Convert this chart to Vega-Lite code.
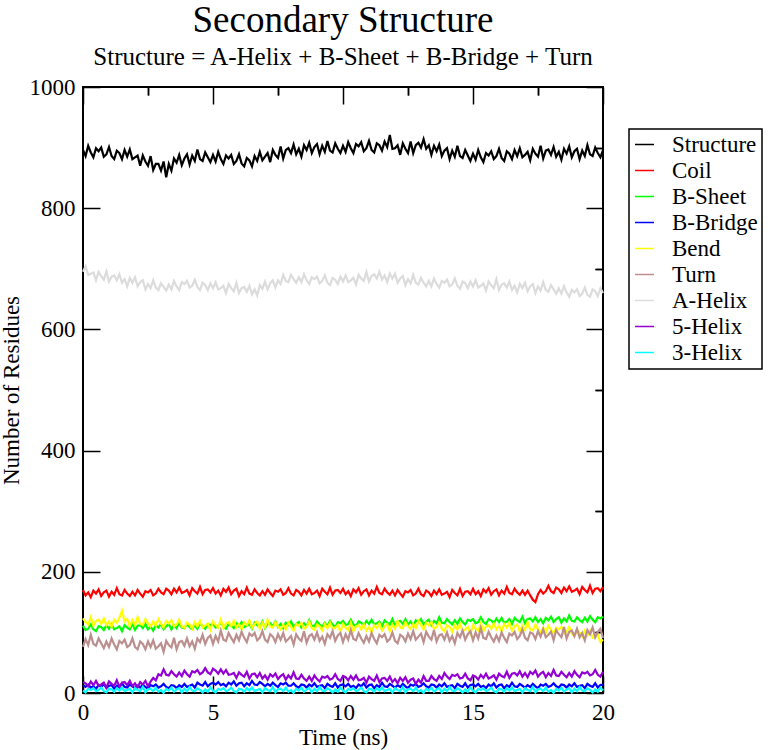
{
"$schema":"https://vega.github.io/schema/vega-lite/v6.json",
"width":520,"height":606,
"autosize":"none",
"padding":{"left":83,"top":87,"right":171,"bottom":57},
"background":"white",
"config":{"view":{"stroke":"black","strokeWidth":2},"font":"Liberation Serif",
"legend":{"strokeWidth":1.5},
"axis":{"grid":false,"domain":false,"labelFlush":false,"format":"d","tickColor":"black","tickWidth":1.5,"labelFont":"Liberation Serif","labelFontSize":23,"labelColor":"black","titleFont":"Liberation Serif","titleFontSize":23,"titleFontWeight":"normal","titleColor":"black"}},
"title":{"text":"Secondary Structure","subtitle":"Structure = A-Helix + B-Sheet + B-Bridge + Turn","font":"Liberation Serif","fontSize":37,"fontWeight":"normal","color":"black","subtitleFont":"Liberation Serif","subtitleFontSize":25,"subtitleColor":"black","subtitlePadding":5,"offset":5,"anchor":"middle","frame":"group"},
"datasets":{"ss":[
{"t":0,"S":896,"C":170,"G":111,"B":13,"Y":123,"T":76,"A":695,"V":18,"H":4},
{"t":0.1,"S":886,"C":161,"G":104,"B":10,"Y":117,"T":89,"A":704,"V":16,"H":1},
{"t":0.2,"S":903,"C":166,"G":106,"B":14,"Y":113,"T":79,"A":690,"V":11,"H":7},
{"t":0.3,"S":892,"C":158,"G":113,"B":9,"Y":125,"T":96,"A":692,"V":19,"H":5},
{"t":0.4,"S":884,"C":169,"G":105,"B":11,"Y":111,"T":81,"A":694,"V":13,"H":8},
{"t":0.5,"S":899,"C":164,"G":102,"B":7,"Y":119,"T":78,"A":681,"V":20,"H":3},
{"t":0.6,"S":894,"C":171,"G":110,"B":13,"Y":121,"T":90,"A":695,"V":12,"H":5},
{"t":0.7,"S":900,"C":160,"G":109,"B":10,"Y":114,"T":82,"A":688,"V":14,"H":9},
{"t":0.8,"S":885,"C":166,"G":104,"B":15,"Y":123,"T":74,"A":682,"V":17,"H":3},
{"t":0.9,"S":889,"C":169,"G":112,"B":8,"Y":112,"T":85,"A":696,"V":9,"H":1},
{"t":1.0,"S":901,"C":159,"G":106,"B":12,"Y":118,"T":76,"A":679,"V":19,"H":7},
{"t":1.1,"S":886,"C":167,"G":113,"B":13,"Y":109,"T":90,"A":687,"V":15,"H":6},
{"t":1.2,"S":881,"C":162,"G":105,"B":7,"Y":121,"T":80,"A":689,"V":12,"H":2},
{"t":1.3,"S":895,"C":173,"G":107,"B":12,"Y":116,"T":72,"A":681,"V":21,"H":8},
{"t":1.4,"S":891,"C":163,"G":110,"B":9,"Y":124,"T":86,"A":691,"V":10,"H":4},
{"t":1.5,"S":881,"C":161,"G":102,"B":16,"Y":136,"T":82,"A":677,"V":17,"H":9},
{"t":1.6,"S":896,"C":170,"G":112,"B":10,"Y":118,"T":88,"A":683,"V":18,"H":3},
{"t":1.7,"S":885,"C":164,"G":108,"B":9,"Y":122,"T":76,"A":671,"V":13,"H":5},
{"t":1.8,"S":897,"C":160,"G":105,"B":14,"Y":110,"T":79,"A":685,"V":20,"H":7},
{"t":1.9,"S":881,"C":167,"G":114,"B":11,"Y":120,"T":90,"A":677,"V":11,"H":1},
{"t":2.0,"S":884,"C":161,"G":104,"B":8,"Y":112,"T":76,"A":686,"V":16,"H":8},
{"t":2.1,"S":887,"C":170,"G":111,"B":12,"Y":125,"T":72,"A":671,"V":9,"H":5},
{"t":2.2,"S":870,"C":164,"G":112,"B":9,"Y":114,"T":85,"A":678,"V":18,"H":3},
{"t":2.3,"S":887,"C":159,"G":107,"B":14,"Y":112,"T":81,"A":681,"V":14,"H":10},
{"t":2.4,"S":877,"C":168,"G":114,"B":10,"Y":122,"T":72,"A":666,"V":20,"H":1},
{"t":2.5,"S":870,"C":166,"G":105,"B":7,"Y":115,"T":85,"A":675,"V":11,"H":6},
{"t":2.6,"S":886,"C":170,"G":110,"B":13,"Y":110,"T":76,"A":668,"V":19,"H":7},
{"t":2.7,"S":863,"C":161,"G":103,"B":11,"Y":118,"T":87,"A":681,"V":25,"H":3},
{"t":2.8,"S":873,"C":164,"G":112,"B":14,"Y":111,"T":73,"A":669,"V":21,"H":9},
{"t":2.9,"S":873,"C":172,"G":108,"B":9,"Y":122,"T":77,"A":665,"V":31,"H":2},
{"t":3.0,"S":862,"C":166,"G":114,"B":11,"Y":114,"T":82,"A":676,"V":29,"H":5},
{"t":3.1,"S":877,"C":163,"G":105,"B":15,"Y":108,"T":68,"A":670,"V":39,"H":0},
{"t":3.2,"S":851,"C":172,"G":110,"B":10,"Y":119,"T":86,"A":664,"V":30,"H":7},
{"t":3.3,"S":873,"C":169,"G":114,"B":8,"Y":115,"T":79,"A":674,"V":29,"H":4},
{"t":3.4,"S":862,"C":163,"G":105,"B":13,"Y":120,"T":75,"A":666,"V":36,"H":9},
{"t":3.5,"S":882,"C":172,"G":112,"B":12,"Y":110,"T":91,"A":680,"V":31,"H":2},
{"t":3.6,"S":875,"C":166,"G":107,"B":8,"Y":113,"T":72,"A":671,"V":27,"H":6},
{"t":3.7,"S":888,"C":174,"G":117,"B":13,"Y":121,"T":84,"A":665,"V":34,"H":8},
{"t":3.8,"S":871,"C":165,"G":108,"B":10,"Y":110,"T":86,"A":678,"V":28,"H":1},
{"t":3.9,"S":882,"C":167,"G":107,"B":15,"Y":107,"T":78,"A":675,"V":37,"H":7},
{"t":4.0,"S":889,"C":170,"G":114,"B":10,"Y":116,"T":90,"A":680,"V":31,"H":3},
{"t":4.1,"S":872,"C":161,"G":109,"B":12,"Y":113,"T":77,"A":669,"V":27,"H":10},
{"t":4.2,"S":887,"C":173,"G":105,"B":14,"Y":106,"T":85,"A":672,"V":36,"H":4},
{"t":4.3,"S":878,"C":168,"G":112,"B":9,"Y":117,"T":73,"A":682,"V":34,"H":3},
{"t":4.4,"S":897,"C":164,"G":106,"B":17,"Y":110,"T":90,"A":670,"V":38,"H":8},
{"t":4.5,"S":881,"C":175,"G":115,"B":14,"Y":119,"T":84,"A":665,"V":31,"H":5},
{"t":4.6,"S":878,"C":163,"G":110,"B":12,"Y":108,"T":96,"A":677,"V":34,"H":1},
{"t":4.7,"S":892,"C":170,"G":106,"B":18,"Y":111,"T":81,"A":673,"V":41,"H":6},
{"t":4.8,"S":884,"C":171,"G":114,"B":11,"Y":115,"T":91,"A":665,"V":34,"H":2},
{"t":4.9,"S":876,"C":166,"G":112,"B":15,"Y":104,"T":95,"A":676,"V":31,"H":9},
{"t":5.0,"S":888,"C":173,"G":115,"B":17,"Y":118,"T":81,"A":668,"V":40,"H":4},
{"t":5.1,"S":877,"C":164,"G":108,"B":14,"Y":112,"T":94,"A":678,"V":37,"H":1},
{"t":5.2,"S":893,"C":169,"G":110,"B":18,"Y":108,"T":85,"A":666,"V":32,"H":7},
{"t":5.3,"S":881,"C":161,"G":117,"B":13,"Y":121,"T":103,"A":668,"V":39,"H":5},
{"t":5.4,"S":873,"C":172,"G":109,"B":15,"Y":107,"T":88,"A":672,"V":32,"H":8},
{"t":5.5,"S":887,"C":167,"G":106,"B":11,"Y":115,"T":86,"A":660,"V":38,"H":3},
{"t":5.6,"S":882,"C":174,"G":114,"B":17,"Y":117,"T":99,"A":675,"V":30,"H":5},
{"t":5.7,"S":888,"C":163,"G":112,"B":14,"Y":110,"T":91,"A":668,"V":31,"H":9},
{"t":5.8,"S":873,"C":169,"G":107,"B":19,"Y":119,"T":84,"A":663,"V":33,"H":3},
{"t":5.9,"S":878,"C":172,"G":115,"B":12,"Y":108,"T":96,"A":677,"V":25,"H":1},
{"t":6.0,"S":889,"C":160,"G":110,"B":16,"Y":114,"T":87,"A":660,"V":34,"H":7},
{"t":6.1,"S":874,"C":168,"G":117,"B":17,"Y":105,"T":101,"A":668,"V":30,"H":6},
{"t":6.2,"S":869,"C":163,"G":109,"B":11,"Y":117,"T":91,"A":670,"V":27,"H":2},
{"t":6.3,"S":883,"C":174,"G":111,"B":16,"Y":112,"T":84,"A":662,"V":35,"H":8},
{"t":6.4,"S":879,"C":164,"G":114,"B":13,"Y":120,"T":98,"A":672,"V":24,"H":4},
{"t":6.5,"S":869,"C":162,"G":106,"B":20,"Y":107,"T":94,"A":658,"V":31,"H":9},
{"t":6.6,"S":886,"C":171,"G":116,"B":14,"Y":114,"T":99,"A":666,"V":32,"H":3},
{"t":6.7,"S":878,"C":165,"G":112,"B":13,"Y":118,"T":87,"A":656,"V":26,"H":5},
{"t":6.8,"S":893,"C":161,"G":109,"B":18,"Y":106,"T":91,"A":673,"V":33,"H":7},
{"t":6.9,"S":879,"C":168,"G":118,"B":15,"Y":116,"T":102,"A":667,"V":24,"H":1},
{"t":7.0,"S":885,"C":162,"G":107,"B":11,"Y":108,"T":88,"A":679,"V":29,"H":8},
{"t":7.1,"S":891,"C":171,"G":114,"B":15,"Y":121,"T":84,"A":666,"V":22,"H":5},
{"t":7.2,"S":876,"C":165,"G":115,"B":12,"Y":110,"T":97,"A":676,"V":31,"H":3},
{"t":7.3,"S":896,"C":160,"G":110,"B":17,"Y":108,"T":93,"A":681,"V":27,"H":10},
{"t":7.4,"S":888,"C":169,"G":118,"B":13,"Y":117,"T":84,"A":669,"V":32,"H":1},
{"t":7.5,"S":883,"C":167,"G":109,"B":10,"Y":110,"T":97,"A":681,"V":23,"H":6},
{"t":7.6,"S":902,"C":171,"G":114,"B":16,"Y":105,"T":88,"A":675,"V":28,"H":7},
{"t":7.7,"S":882,"C":162,"G":107,"B":14,"Y":113,"T":99,"A":690,"V":31,"H":3},
{"t":7.8,"S":896,"C":165,"G":116,"B":17,"Y":105,"T":85,"A":680,"V":22,"H":9},
{"t":7.9,"S":899,"C":173,"G":112,"B":12,"Y":116,"T":89,"A":678,"V":29,"H":2},
{"t":8.0,"S":891,"C":164,"G":118,"B":12,"Y":109,"T":94,"A":690,"V":24,"H":5},
{"t":8.1,"S":905,"C":161,"G":109,"B":16,"Y":103,"T":80,"A":683,"V":34,"H":0},
{"t":8.2,"S":889,"C":170,"G":114,"B":11,"Y":114,"T":97,"A":677,"V":24,"H":7},
{"t":8.3,"S":898,"C":167,"G":117,"B":9,"Y":111,"T":90,"A":686,"V":23,"H":4},
{"t":8.4,"S":885,"C":161,"G":108,"B":14,"Y":116,"T":86,"A":678,"V":30,"H":9},
{"t":8.5,"S":904,"C":170,"G":115,"B":13,"Y":106,"T":102,"A":691,"V":24,"H":2},
{"t":8.6,"S":896,"C":164,"G":110,"B":9,"Y":109,"T":83,"A":681,"V":20,"H":6},
{"t":8.7,"S":908,"C":172,"G":120,"B":14,"Y":118,"T":94,"A":675,"V":27,"H":8},
{"t":8.8,"S":891,"C":163,"G":111,"B":11,"Y":107,"T":97,"A":686,"V":20,"H":1},
{"t":8.9,"S":901,"C":165,"G":110,"B":16,"Y":104,"T":88,"A":683,"V":29,"H":7},
{"t":9.0,"S":906,"C":169,"G":118,"B":10,"Y":113,"T":100,"A":687,"V":23,"H":3},
{"t":9.1,"S":889,"C":160,"G":113,"B":12,"Y":110,"T":86,"A":676,"V":19,"H":10},
{"t":9.2,"S":903,"C":172,"G":109,"B":13,"Y":103,"T":93,"A":680,"V":27,"H":4},
{"t":9.3,"S":893,"C":167,"G":116,"B":8,"Y":114,"T":81,"A":689,"V":25,"H":3},
{"t":9.4,"S":911,"C":163,"G":110,"B":15,"Y":107,"T":97,"A":677,"V":28,"H":8},
{"t":9.5,"S":895,"C":174,"G":119,"B":12,"Y":116,"T":91,"A":673,"V":22,"H":5},
{"t":9.6,"S":892,"C":162,"G":113,"B":10,"Y":105,"T":102,"A":685,"V":24,"H":1},
{"t":9.7,"S":907,"C":169,"G":109,"B":16,"Y":108,"T":86,"A":682,"V":31,"H":6},
{"t":9.8,"S":898,"C":170,"G":117,"B":9,"Y":112,"T":95,"A":675,"V":23,"H":2},
{"t":9.9,"S":891,"C":165,"G":115,"B":13,"Y":101,"T":99,"A":687,"V":20,"H":9},
{"t":10.0,"S":903,"C":172,"G":119,"B":14,"Y":114,"T":84,"A":679,"V":28,"H":4},
{"t":10.1,"S":893,"C":163,"G":112,"B":11,"Y":108,"T":97,"A":689,"V":26,"H":1},
{"t":10.2,"S":909,"C":168,"G":114,"B":15,"Y":104,"T":88,"A":678,"V":21,"H":7},
{"t":10.3,"S":899,"C":160,"G":121,"B":10,"Y":116,"T":104,"A":681,"V":28,"H":5},
{"t":10.4,"S":891,"C":171,"G":113,"B":12,"Y":102,"T":89,"A":685,"V":22,"H":8},
{"t":10.5,"S":906,"C":166,"G":110,"B":8,"Y":110,"T":87,"A":674,"V":29,"H":3},
{"t":10.6,"S":902,"C":173,"G":118,"B":14,"Y":112,"T":99,"A":690,"V":21,"H":5},
{"t":10.7,"S":909,"C":162,"G":116,"B":11,"Y":105,"T":90,"A":684,"V":22,"H":9},
{"t":10.8,"S":894,"C":168,"G":111,"B":16,"Y":114,"T":83,"A":680,"V":25,"H":3},
{"t":10.9,"S":899,"C":171,"G":119,"B":9,"Y":103,"T":94,"A":695,"V":17,"H":1},
{"t":11.0,"S":911,"C":161,"G":114,"B":13,"Y":109,"T":85,"A":679,"V":27,"H":7},
{"t":11.1,"S":896,"C":169,"G":121,"B":14,"Y":100,"T":99,"A":688,"V":23,"H":6},
{"t":11.2,"S":892,"C":164,"G":113,"B":8,"Y":112,"T":89,"A":691,"V":20,"H":2},
{"t":11.3,"S":907,"C":175,"G":115,"B":13,"Y":107,"T":82,"A":684,"V":29,"H":8},
{"t":11.4,"S":904,"C":165,"G":118,"B":10,"Y":115,"T":96,"A":695,"V":18,"H":4},
{"t":11.5,"S":895,"C":163,"G":110,"B":17,"Y":103,"T":92,"A":682,"V":24,"H":9},
{"t":11.6,"S":910,"C":172,"G":120,"B":11,"Y":110,"T":97,"A":689,"V":25,"H":3},
{"t":11.7,"S":901,"C":166,"G":116,"B":10,"Y":114,"T":85,"A":678,"V":20,"H":5},
{"t":11.8,"S":921,"C":162,"G":113,"B":15,"Y":102,"T":89,"A":692,"V":27,"H":7},
{"t":11.9,"S":898,"C":169,"G":122,"B":12,"Y":113,"T":100,"A":684,"V":18,"H":1},
{"t":12.0,"S":899,"C":161,"G":111,"B":9,"Y":106,"T":86,"A":692,"V":23,"H":8},
{"t":12.1,"S":904,"C":170,"G":118,"B":13,"Y":119,"T":82,"A":677,"V":16,"H":5},
{"t":12.2,"S":888,"C":164,"G":119,"B":10,"Y":108,"T":96,"A":684,"V":25,"H":3},
{"t":12.3,"S":907,"C":159,"G":114,"B":15,"Y":107,"T":93,"A":688,"V":20,"H":10},
{"t":12.4,"S":898,"C":168,"G":122,"B":11,"Y":117,"T":85,"A":673,"V":26,"H":1},
{"t":12.5,"S":891,"C":166,"G":113,"B":8,"Y":110,"T":98,"A":683,"V":17,"H":6},
{"t":12.6,"S":910,"C":170,"G":118,"B":14,"Y":106,"T":89,"A":676,"V":22,"H":7},
{"t":12.7,"S":891,"C":161,"G":111,"B":12,"Y":114,"T":102,"A":690,"V":24,"H":3},
{"t":12.8,"S":904,"C":164,"G":120,"B":15,"Y":107,"T":88,"A":677,"V":15,"H":9},
{"t":12.9,"S":908,"C":172,"G":116,"B":10,"Y":119,"T":93,"A":674,"V":22,"H":2},
{"t":13.0,"S":900,"C":163,"G":122,"B":12,"Y":112,"T":98,"A":685,"V":17,"H":5},
{"t":13.1,"S":914,"C":160,"G":113,"B":16,"Y":105,"T":84,"A":677,"V":28,"H":0},
{"t":13.2,"S":898,"C":169,"G":118,"B":11,"Y":116,"T":101,"A":671,"V":20,"H":7},
{"t":13.3,"S":904,"C":166,"G":121,"B":9,"Y":112,"T":93,"A":680,"V":20,"H":4},
{"t":13.4,"S":888,"C":160,"G":112,"B":14,"Y":117,"T":88,"A":671,"V":28,"H":9},
{"t":13.5,"S":903,"C":169,"G":119,"B":13,"Y":106,"T":104,"A":684,"V":23,"H":2},
{"t":13.6,"S":894,"C":163,"G":115,"B":9,"Y":109,"T":85,"A":675,"V":20,"H":6},
{"t":13.7,"S":905,"C":171,"G":125,"B":14,"Y":117,"T":95,"A":669,"V":28,"H":8},
{"t":13.8,"S":886,"C":162,"G":116,"B":11,"Y":106,"T":97,"A":680,"V":23,"H":1},
{"t":13.9,"S":895,"C":164,"G":115,"B":16,"Y":102,"T":88,"A":677,"V":33,"H":7},
{"t":14.0,"S":899,"C":167,"G":122,"B":10,"Y":112,"T":100,"A":682,"V":27,"H":3},
{"t":14.1,"S":881,"C":158,"G":117,"B":12,"Y":109,"T":86,"A":671,"V":23,"H":10},
{"t":14.2,"S":895,"C":170,"G":113,"B":13,"Y":101,"T":94,"A":674,"V":30,"H":4},
{"t":14.3,"S":885,"C":165,"G":120,"B":8,"Y":112,"T":82,"A":684,"V":28,"H":3},
{"t":14.4,"S":903,"C":161,"G":114,"B":15,"Y":105,"T":99,"A":672,"V":31,"H":8},
{"t":14.5,"S":886,"C":172,"G":123,"B":12,"Y":114,"T":92,"A":667,"V":24,"H":5},
{"t":14.6,"S":883,"C":160,"G":117,"B":10,"Y":102,"T":103,"A":679,"V":25,"H":1},
{"t":14.7,"S":896,"C":167,"G":113,"B":16,"Y":105,"T":88,"A":676,"V":32,"H":6},
{"t":14.8,"S":887,"C":168,"G":121,"B":9,"Y":109,"T":97,"A":668,"V":24,"H":2},
{"t":14.9,"S":878,"C":163,"G":119,"B":13,"Y":98,"T":102,"A":679,"V":21,"H":9},
{"t":15.0,"S":890,"C":172,"G":122,"B":14,"Y":112,"T":87,"A":671,"V":29,"H":4},
{"t":15.1,"S":880,"C":163,"G":115,"B":11,"Y":106,"T":100,"A":681,"V":27,"H":1},
{"t":15.2,"S":896,"C":168,"G":117,"B":15,"Y":103,"T":90,"A":669,"V":22,"H":7},
{"t":15.3,"S":884,"C":160,"G":125,"B":10,"Y":115,"T":107,"A":672,"V":30,"H":5},
{"t":15.4,"S":876,"C":171,"G":117,"B":12,"Y":102,"T":91,"A":676,"V":25,"H":8},
{"t":15.5,"S":891,"C":166,"G":114,"B":8,"Y":110,"T":89,"A":664,"V":32,"H":3},
{"t":15.6,"S":887,"C":173,"G":122,"B":14,"Y":112,"T":101,"A":679,"V":24,"H":5},
{"t":15.7,"S":894,"C":162,"G":120,"B":11,"Y":106,"T":92,"A":673,"V":26,"H":9},
{"t":15.8,"S":881,"C":168,"G":115,"B":16,"Y":115,"T":85,"A":668,"V":29,"H":3},
{"t":15.9,"S":886,"C":171,"G":123,"B":9,"Y":105,"T":95,"A":683,"V":22,"H":1},
{"t":16.0,"S":898,"C":161,"G":117,"B":13,"Y":111,"T":86,"A":665,"V":32,"H":7},
{"t":16.1,"S":883,"C":169,"G":124,"B":14,"Y":102,"T":100,"A":674,"V":28,"H":6},
{"t":16.2,"S":878,"C":164,"G":116,"B":8,"Y":114,"T":91,"A":676,"V":26,"H":2},
{"t":16.3,"S":894,"C":175,"G":118,"B":13,"Y":108,"T":84,"A":669,"V":35,"H":8},
{"t":16.4,"S":890,"C":165,"G":122,"B":10,"Y":116,"T":98,"A":679,"V":25,"H":4},
{"t":16.5,"S":881,"C":163,"G":114,"B":17,"Y":103,"T":95,"A":665,"V":32,"H":9},
{"t":16.6,"S":896,"C":172,"G":124,"B":11,"Y":110,"T":101,"A":672,"V":33,"H":3},
{"t":16.7,"S":886,"C":166,"G":120,"B":10,"Y":113,"T":89,"A":661,"V":29,"H":5},
{"t":16.8,"S":899,"C":162,"G":117,"B":15,"Y":101,"T":94,"A":675,"V":36,"H":7},
{"t":16.9,"S":884,"C":169,"G":126,"B":12,"Y":111,"T":105,"A":668,"V":27,"H":1},
{"t":17.0,"S":888,"C":162,"G":115,"B":9,"Y":104,"T":91,"A":677,"V":33,"H":8},
{"t":17.1,"S":893,"C":169,"G":122,"B":13,"Y":117,"T":87,"A":663,"V":26,"H":5},
{"t":17.2,"S":879,"C":161,"G":123,"B":10,"Y":105,"T":100,"A":671,"V":35,"H":3},
{"t":17.3,"S":898,"C":154,"G":118,"B":15,"Y":103,"T":98,"A":675,"V":31,"H":10},
{"t":17.4,"S":890,"C":150,"G":125,"B":11,"Y":113,"T":89,"A":660,"V":37,"H":1},
{"t":17.5,"S":885,"C":163,"G":117,"B":8,"Y":105,"T":102,"A":671,"V":27,"H":6},
{"t":17.6,"S":903,"C":170,"G":122,"B":14,"Y":100,"T":93,"A":664,"V":32,"H":7},
{"t":17.7,"S":882,"C":164,"G":115,"B":12,"Y":108,"T":105,"A":678,"V":35,"H":3},
{"t":17.8,"S":895,"C":168,"G":124,"B":15,"Y":100,"T":92,"A":665,"V":26,"H":9},
{"t":17.9,"S":897,"C":177,"G":120,"B":10,"Y":111,"T":96,"A":662,"V":33,"H":2},
{"t":18.0,"S":888,"C":168,"G":126,"B":12,"Y":104,"T":101,"A":673,"V":28,"H":5},
{"t":18.1,"S":901,"C":165,"G":117,"B":16,"Y":98,"T":87,"A":666,"V":38,"H":0},
{"t":18.2,"S":885,"C":174,"G":122,"B":11,"Y":108,"T":104,"A":659,"V":29,"H":7},
{"t":18.3,"S":893,"C":171,"G":125,"B":9,"Y":105,"T":97,"A":668,"V":28,"H":4},
{"t":18.4,"S":880,"C":165,"G":116,"B":14,"Y":109,"T":92,"A":659,"V":35,"H":9},
{"t":18.5,"S":898,"C":174,"G":123,"B":13,"Y":98,"T":109,"A":671,"V":30,"H":2},
{"t":18.6,"S":890,"C":168,"G":118,"B":9,"Y":101,"T":90,"A":661,"V":26,"H":6},
{"t":18.7,"S":902,"C":176,"G":128,"B":14,"Y":109,"T":101,"A":654,"V":33,"H":8},
{"t":18.8,"S":884,"C":167,"G":119,"B":11,"Y":98,"T":103,"A":665,"V":27,"H":1},
{"t":18.9,"S":894,"C":169,"G":118,"B":16,"Y":94,"T":94,"A":661,"V":36,"H":7},
{"t":19.0,"S":898,"C":172,"G":125,"B":10,"Y":104,"T":106,"A":666,"V":30,"H":3},
{"t":19.1,"S":881,"C":163,"G":120,"B":12,"Y":100,"T":92,"A":655,"V":26,"H":10},
{"t":19.2,"S":895,"C":175,"G":117,"B":13,"Y":93,"T":99,"A":659,"V":34,"H":4},
{"t":19.3,"S":886,"C":170,"G":124,"B":8,"Y":103,"T":87,"A":669,"V":32,"H":3},
{"t":19.4,"S":904,"C":166,"G":118,"B":15,"Y":95,"T":104,"A":657,"V":35,"H":8},
{"t":19.5,"S":889,"C":177,"G":127,"B":12,"Y":103,"T":97,"A":654,"V":29,"H":5},
{"t":19.6,"S":886,"C":165,"G":121,"B":10,"Y":91,"T":108,"A":666,"V":31,"H":1},
{"t":19.7,"S":900,"C":172,"G":117,"B":16,"Y":93,"T":92,"A":663,"V":38,"H":6},
{"t":19.8,"S":891,"C":173,"G":125,"B":9,"Y":96,"T":101,"A":655,"V":30,"H":2},
{"t":19.9,"S":884,"C":168,"G":123,"B":13,"Y":84,"T":106,"A":668,"V":27,"H":9},
{"t":20.0,"S":896,"C":175,"G":126,"B":14,"Y":88,"T":91,"A":660,"V":35,"H":4}
]},
"layer":[
{"data":{"name":"ss"},
"transform":[
{"fold":["S","C","G","B","Y","T","A","V","H"],"as":["k","v"]},
{"lookup":"k","from":{"data":{"values":[{"k":"S","name":"Structure"},{"k":"C","name":"Coil"},{"k":"G","name":"B-Sheet"},{"k":"B","name":"B-Bridge"},{"k":"Y","name":"Bend"},{"k":"T","name":"Turn"},{"k":"A","name":"A-Helix"},{"k":"V","name":"5-Helix"},{"k":"H","name":"3-Helix"}]},"key":"k","fields":["name"]}}
],
"mark":{"type":"line","strokeWidth":2.2,"strokeJoin":"miter"},
"encoding":{
"x":{"field":"t","type":"quantitative","scale":{"domain":[0,20],"nice":false,"zero":false},"axis":{"values":[0,5,10,15,20],"tickSize":-17,"labelPadding":25,"title":"Time (ns)","titlePadding":2}},
"y":{"field":"v","type":"quantitative","scale":{"domain":[0,1000],"nice":false},"axis":{"values":[0,200,400,600,800,1000],"tickSize":-17,"labelPadding":25,"title":"Number of Residues","titlePadding":6}},
"color":{"field":"name","type":"nominal","scale":{"domain":["Structure","Coil","B-Sheet","B-Bridge","Bend","Turn","A-Helix","5-Helix","3-Helix"],"range":["#000000","#ff0000","#00ff00","#0000ff","#ffff00","#bc8f8f","#dcdcdc","#9400d3","#00ffff"]},
"legend":{"orient":"none","legendX":546,"legendY":42,"title":null,"symbolType":"stroke","symbolSize":361,"symbolStrokeWidth":1.5,"labelFont":"Liberation Serif","labelFontSize":23,"labelColor":"black","labelOffset":16,"rowPadding":2,"padding":4,"strokeColor":"black","fillColor":"white","labelLimit":300}}
}},
{"data":{"values":[{"t":0,"v":0}]},
"mark":{"type":"point","opacity":0},
"encoding":{
"x":{"field":"t","type":"quantitative","scale":{"domain":[0,20],"nice":false},"axis":{"values":[2.5,7.5,12.5,17.5],"tickSize":-8,"labels":false,"title":null}},
"y":{"field":"v","type":"quantitative","scale":{"domain":[0,1000],"nice":false},"axis":{"values":[100,300,500,700,900],"tickSize":-8,"labels":false,"title":null}}
}},
{"data":{"values":[{"t":0,"v":0}]},
"mark":{"type":"point","opacity":0},
"encoding":{
"x":{"field":"t","type":"quantitative","scale":{"domain":[0,20],"nice":false},"axis":{"orient":"top","values":[0,5,10,15,20],"tickSize":-17,"labels":false,"title":null}},
"y":{"field":"v","type":"quantitative","scale":{"domain":[0,1000],"nice":false},"axis":{"orient":"right","values":[0,200,400,600,800,1000],"tickSize":-17,"labels":false,"title":null}}
}},
{"data":{"values":[{"t":0,"v":0}]},
"mark":{"type":"point","opacity":0},
"encoding":{
"x":{"field":"t","type":"quantitative","scale":{"domain":[0,20],"nice":false},"axis":{"orient":"top","values":[2.5,7.5,12.5,17.5],"tickSize":-8,"labels":false,"title":null}},
"y":{"field":"v","type":"quantitative","scale":{"domain":[0,1000],"nice":false},"axis":{"orient":"right","values":[100,300,500,700,900],"tickSize":-8,"labels":false,"title":null}}
}}
],
"resolve":{"axis":{"x":"independent","y":"independent"}}
}
